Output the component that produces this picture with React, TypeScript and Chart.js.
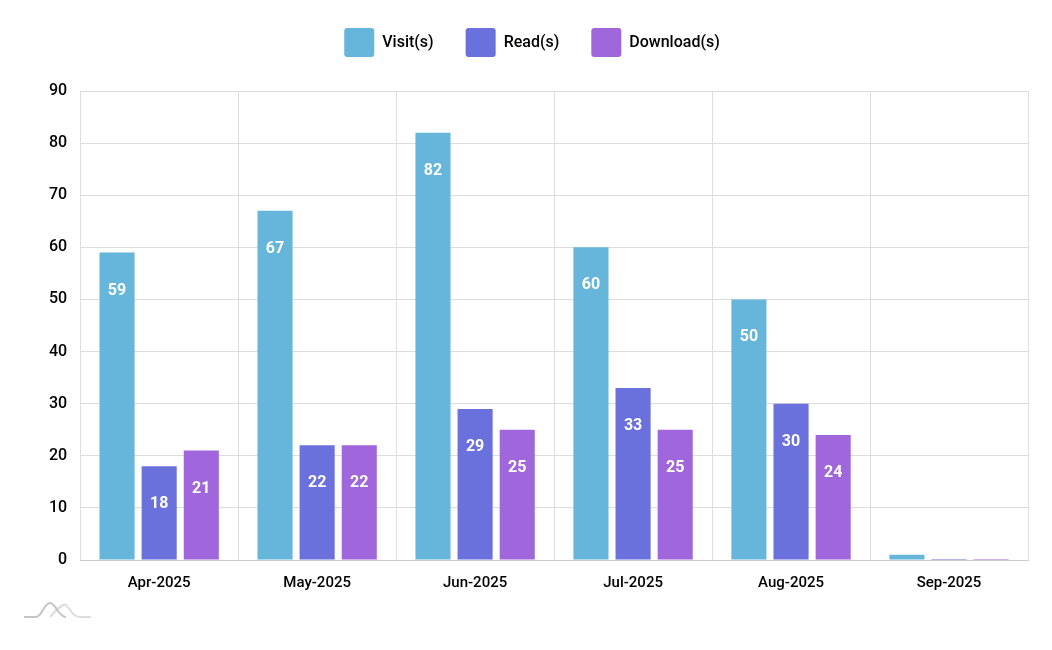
import React, { useEffect, useRef } from "react";
import { Chart, registerables } from "chart.js";

Chart.register(...registerables);

const categories = ["Apr-2025", "May-2025", "Jun-2025", "Jul-2025", "Aug-2025", "Sep-2025"];
const visits = [59, 67, 82, 60, 50, 1];
const reads = [18, 22, 29, 33, 30, 0];
const downloads = [21, 22, 25, 25, 24, 0];
const seriesNames = ["Visit(s)", "Read(s)", "Download(s)"];
const seriesColors = ["#66b6dc", "#6a70dc", "#a066dc"];

const FONT = "Roboto, 'Liberation Sans', sans-serif";

const labelPlugin = {
  id: "barLabels",
  afterDatasetsDraw(chart: any) {
    const ctx = chart.ctx;
    ctx.save();
    ctx.font = `bold 16px ${FONT}`;
    ctx.fillStyle = "#ffffff";
    ctx.textAlign = "center";
    ctx.textBaseline = "middle";
    chart.data.datasets.forEach((ds: any, i: number) => {
      const meta = chart.getDatasetMeta(i);
      meta.data.forEach((bar: any, j: number) => {
        const v = ds.data[j];
        if (v < 5) return;
        ctx.fillText(String(v), bar.x, bar.y + 38);
      });
    });
    ctx.restore();
  },
};

const legendGapPlugin = {
  id: "legendGap",
  beforeUpdate(chart: any) {
    const lg = chart.legend;
    if (lg && !lg._gapPatched) {
      const orig = lg.fit.bind(lg);
      lg.fit = function () {
        orig();
        this.height += 24;
      };
      lg._gapPatched = true;
    }
  },
};

const logoPlugin = {
  id: "logo",
  afterDraw(chart: any) {
    const ctx = chart.ctx;
    ctx.save();
    ctx.lineWidth = 2;
    ctx.strokeStyle = "#dddddd";
    ctx.beginPath();
    ctx.moveTo(50, 617);
    ctx.bezierCurveTo(58, 608, 63, 603, 66, 605);
    ctx.bezierCurveTo(70, 608, 72, 617, 80, 617);
    ctx.lineTo(91, 617);
    ctx.stroke();
    ctx.strokeStyle = "#c4c4c4";
    ctx.beginPath();
    ctx.moveTo(24, 617);
    ctx.lineTo(36, 617);
    ctx.bezierCurveTo(42, 617, 44, 603, 50, 603);
    ctx.bezierCurveTo(56, 603, 58, 617, 66, 617);
    ctx.stroke();
    ctx.restore();
  },
};

export default function App() {
  const ref = useRef<HTMLCanvasElement | null>(null);
  useEffect(() => {
    if (!ref.current) return;
    const chart = new Chart(ref.current, {
      type: "bar",
      data: {
        labels: categories,
        datasets: [visits, reads, downloads].map((d, i) => ({
          label: seriesNames[i],
          data: d,
          backgroundColor: seriesColors[i],
          borderColor: seriesColors[i],
          borderWidth: 0,
          minBarLength: 1,
          categoryPercentage: 0.8,
          barPercentage: 0.833,
        })),
      },
      options: {
        animation: false,
        responsive: true,
        maintainAspectRatio: false,
        layout: { padding: { left: 36, right: 24, top: -4, bottom: 44 } },
        plugins: {
          legend: {
            position: "top",
            labels: {
              boxWidth: 30,
              boxHeight: 29,
              useBorderRadius: true,
              borderRadius: 3,
              padding: 32,
              color: "#000",
              font: { family: FONT, size: 16, weight: "500" },
            },
          },
          tooltip: { enabled: false },
        },
        scales: {
          x: {
            grid: { color: "#dcdcdc", offset: true, drawTicks: false },
            border: { color: "#cccccc" },
            ticks: { color: "#000", font: { family: FONT, size: 15, weight: "500" }, padding: 14 },
          },
          y: {
            min: 0,
            max: 90,
            grid: { color: "#dcdcdc", drawTicks: false },
            border: { display: false },
            ticks: { stepSize: 10, color: "#000", font: { family: FONT, size: 16, weight: "500" }, padding: 13 },
          },
        },
      },
      plugins: [legendGapPlugin, labelPlugin, logoPlugin],
    });
    return () => chart.destroy();
  }, []);
  return (
    <div style={{ position: "fixed", left: 0, top: 0, width: 1052, height: 650, background: "#fff" }}>
      <canvas ref={ref} />
    </div>
  );
}
